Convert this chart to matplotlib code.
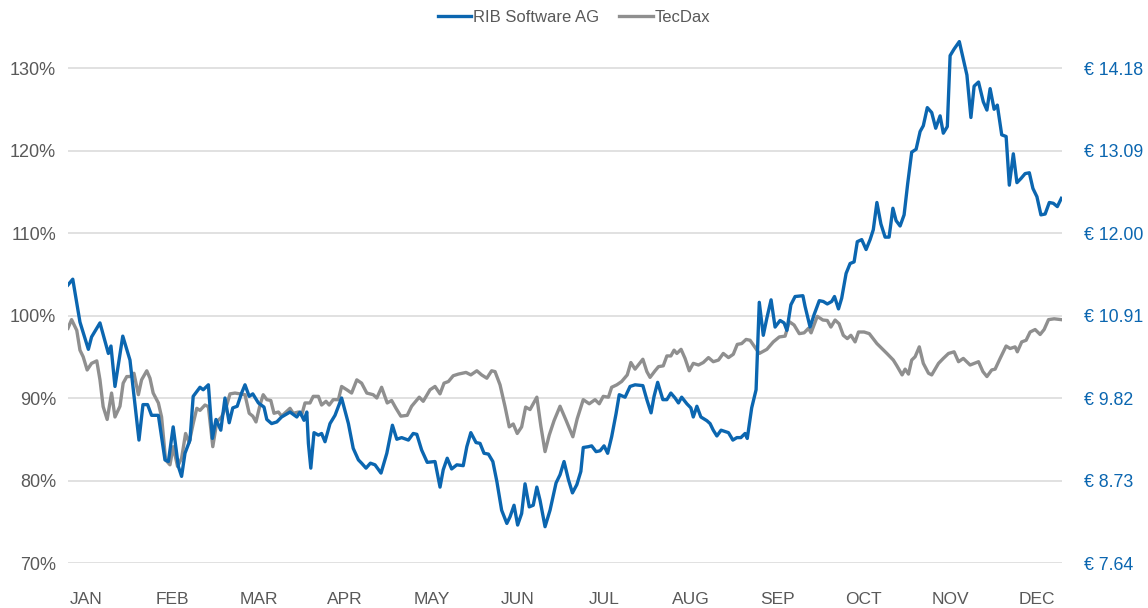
import matplotlib
matplotlib.use("Agg")
import matplotlib.pyplot as plt
from matplotlib.ticker import FixedLocator, FuncFormatter

plt.rcParams['font.family'] = ['Liberation Sans', 'DejaVu Sans']

# trading-day index and performance in % (start = 100 %)
rib_days = [0, 1.2, 3, 5.1, 5.9, 8, 10.1, 10.75, 11.75, 13.7, 15.5, 17.75, 18.75, 19.9, 20.9,
            22.6, 24.25, 25.1, 26.3, 27.6, 28.4, 29.25, 30.5, 31.3, 33, 33.8, 35.1, 36.1, 37,
            38.2, 39.25, 40.3, 41.2, 42.3, 43.4, 44.25, 45.3, 46.2, 47.6, 49, 49.7, 50.9, 52.2,
            53.4, 55.5, 57.2, 58, 59, 59.7, 60.1, 60.7, 61.5, 62.6, 63.4, 64.25, 65.5, 66.75,
            68.4, 70.1, 71.3, 72.6, 73.4, 74.5, 75.6, 76.75, 78.25, 79.7, 81.1, 82.2, 83.4,
            85.1, 86.3, 87.2, 88.4, 89.8, 91.75, 93, 93.8, 94.8, 95.9, 97.2, 98.8, 99.7, 100.7,
            102, 103, 104, 105.1, 106.2, 107.2, 108.4, 109.7, 110.5, 111.5, 112.4, 113.4,
            114.25, 115.3, 116.3, 117.2, 118, 119.25, 120.5, 122, 123, 124, 125.1, 126.1,
            127.2, 128.2, 128.8, 130.1, 130.9, 132, 133, 134, 134.9, 135.9, 137, 137.8, 139.25,
            140.5, 141.75, 143.7, 144.7, 145.75, 146.5, 147.4, 148.7, 149.7, 150.7, 151.75,
            152.6, 153.4, 154.7, 155.7, 156.3, 157.2, 158.2, 159.7, 160.5, 161.3, 162.2,
            163.25, 165.1, 166.2, 167.2, 168.2, 169.25, 169.8, 170.9, 172, 172.8, 173.8, 174.7,
            175.75, 176.75, 178, 179, 179.7, 180.7, 181.75, 183.7, 184.25, 185.5, 186.5, 187.8,
            188.8, 189.8, 190.9, 191.6, 192.6, 193.4, 194.5, 195.5, 196.5, 197.3, 198.4, 199.5,
            200.5, 201.3, 202.2, 203.2, 204.25, 205.25, 206.2, 207, 208, 209, 209.9, 210.9,
            212, 213, 213.8, 214.8, 215.9, 216.9, 218, 218.8, 219.8, 220.5, 221.5, 222.8,
            224.7, 225.7, 226.5, 227.6, 228.8, 229.7, 230.5, 231.5, 232.3, 233.4, 234.5, 235.3,
            236.3, 237.2, 238.2, 239.25, 240.3, 241.2, 242.2, 243.2, 244.25, 245.3, 246.3,
            247.3, 248.3]
rib_pct = [103.7, 104.4, 99.2, 95.9, 97.4, 99.1, 95.4, 96.3, 91.4, 97.5, 94.6, 84.9, 89.2,
           89.2, 87.9, 87.9, 82.5, 82.3, 86.5, 81.7, 80.5, 83.3, 84.9, 90.2, 91.3, 91.0, 91.6,
           85.1, 87.4, 86.1, 90.0, 87.0, 88.8, 89.0, 90.6, 91.6, 90.2, 90.5, 89.4, 88.9, 87.4,
           86.9, 87.1, 87.7, 88.3, 87.7, 88.3, 87.3, 88.3, 84.5, 81.5, 85.8, 85.5, 85.7, 84.7,
           86.9, 87.9, 90.0, 86.9, 83.9, 82.5, 82.1, 81.5, 82.1, 81.9, 80.9, 83.3, 86.7, 85.0,
           85.2, 84.9, 85.7, 85.6, 83.7, 82.2, 82.3, 79.2, 81.3, 82.7, 81.4, 81.9, 81.8, 84.1,
           85.8, 84.6, 84.5, 83.3, 83.2, 82.3, 79.9, 76.4, 74.8, 75.6, 77.0, 74.6, 76.0, 79.6,
           76.8, 77.0, 79.2, 77.6, 74.4, 76.4, 79.7, 80.7, 82.3, 80.1, 78.5, 79.5, 81.1, 84.0,
           84.1, 84.2, 83.5, 83.6, 84.2, 83.3, 85.3, 88.1, 90.4, 90.1, 91.4, 91.6, 91.5, 89.8,
           88.2, 90.2, 91.9, 89.8, 89.8, 90.6, 90.0, 89.4, 90.1, 89.3, 88.8, 87.7, 89.0, 87.7,
           87.25, 86.9, 86.1, 85.4, 86.1, 85.8, 84.9, 85.2, 85.2, 85.7, 85.1, 88.8, 91.0,
           101.6, 97.6, 99.7, 101.9, 98.6, 99.4, 99.1, 98.2, 101.3, 102.3, 102.4, 101.1, 98.6,
           100.1, 101.8, 101.7, 101.4, 101.7, 102.3, 100.8, 102.1, 105.1, 106.3, 106.5, 108.95,
           109.2, 108.0, 109.2, 110.4, 113.7, 111.1, 109.5, 109.5, 113.0, 111.5, 110.85, 112.2,
           116.0, 119.8, 120.15, 122.3, 123.0, 125.2, 124.6, 122.7, 124.2, 122.1, 122.9, 131.5,
           132.3, 133.2, 129.15, 124.0, 127.8, 128.3, 125.9, 124.9, 127.5, 125.0, 125.5, 121.9,
           121.7, 115.8, 119.6, 116.1, 116.6, 117.2, 117.3, 115.4, 114.4, 112.2, 112.3, 113.7,
           113.6, 113.2, 114.2]

tec_days = [0, 0.9, 2.2, 3, 3.8, 4.8, 5.9, 7.2, 8, 8.8, 9.8, 10.9, 11.75, 13, 13.8, 14.7, 15.5,
            16.5, 17.6, 18.4, 19.7, 20.5, 21.3, 22.6, 23.4, 24.4, 25.5, 26.3, 27.4, 28.4, 29.4,
            30.3, 31.3, 32.2, 33, 34.25, 35.1, 36.2, 37.2, 38.4, 39.7, 40.5, 41.75, 43, 44.25,
            45.3, 46.2, 47, 48, 48.8, 49.7, 50.7, 51.5, 52.6, 53.4, 54.5, 55.5, 56.3, 57.6,
            58.4, 59.25, 60.5, 61.3, 62.6, 63.4, 64.5, 65.3, 66.3, 67.6, 68.4, 69.7, 70.9, 72.2,
            73.4, 74.7, 76.3, 77.2, 78.4, 79.8, 80.9, 82, 83.2, 84.8, 85.9, 87.8, 88.8, 90.5,
            91.75, 93, 94, 95.1, 96.3, 97.6, 99.5, 100.7, 102.2, 103.4, 104.7, 105.9, 106.75,
            108, 109.25, 110.3, 111.3, 112.3, 113.4, 114.4, 115.5, 117.2, 118.2, 119.25, 120.3,
            121.5, 123, 124.5, 126.2, 127.3, 128.8, 130.3, 131.75, 132.8, 133.8, 135.1, 135.9,
            137.2, 138.4, 139.8, 140.7, 141.75, 143.7, 144.7, 145.5, 146.75, 147.6, 148.8,
            149.7, 150.7, 151.5, 152.2, 153.25, 154.25, 155.3, 156.3, 157.6, 158.8, 160.1,
            161.3, 162.6, 163.8, 165.1, 166.3, 167.3, 168.4, 169.5, 170.5, 172.8, 174.7, 176.3,
            177.8, 179.25, 180.3, 181.5, 182.8, 184, 185.1, 185.75, 187.3, 188.7, 189.8, 190.7,
            191.75, 192.75, 193.8, 194.8, 195.7, 196.75, 197.6, 199, 200.3, 202.2, 204.7, 206.3,
            207.2, 208.5, 209.25, 210.1, 210.9, 211.75, 212.8, 213.8, 215.1, 215.9, 217.6,
            218.8, 220.1, 221.5, 222.6, 223.8, 225.5, 227.6, 228.7, 229.7, 230.9, 231.75, 233,
            234.5, 235.5, 236.75, 237.3, 238.4, 239.5, 240.5, 241.75, 243, 244, 245.1, 246.5,
            248.25]
tec_pct = [98.45, 99.5, 98.2, 95.8, 95.0, 93.4, 94.2, 94.5, 92.2, 88.95, 87.4, 90.6, 87.7,
           89.0, 91.8, 92.6, 92.6, 93.0, 90.4, 92.2, 93.3, 92.4, 90.6, 89.4, 87.7, 82.5, 81.9,
           84.1, 81.7, 82.7, 85.7, 84.6, 86.9, 88.75, 88.5, 89.15, 88.95, 84.1, 87.1, 87.7,
           89.15, 90.5, 90.6, 90.5, 90.4, 88.15, 87.8, 87.1, 89.15, 90.4, 89.8, 89.7, 88.15,
           88.3, 87.8, 88.3, 88.75, 88.15, 88.3, 87.9, 89.4, 89.4, 90.2, 90.2, 89.15, 89.6,
           89.15, 89.8, 89.8, 91.4, 91.0, 90.6, 92.2, 91.8, 90.6, 90.4, 90.0, 91.3, 89.4, 89.7,
           88.75, 87.8, 87.9, 89.0, 90.1, 89.6, 91.0, 91.4, 90.5, 91.8, 92.0, 92.7, 92.9, 93.1,
           92.8, 93.3, 92.8, 92.4, 93.3, 93.2, 91.6, 88.95, 86.5, 86.85, 85.7, 86.5, 88.9,
           88.6, 90.1, 86.6, 83.5, 85.5, 87.25, 89.0, 87.3, 85.3, 87.5, 89.8, 89.3, 89.8, 89.3,
           90.2, 90.1, 91.3, 91.6, 92.0, 92.8, 94.3, 93.5, 94.7, 93.2, 92.5, 93.3, 93.8, 93.9,
           95.1, 95.1, 95.8, 95.4, 95.9, 94.8, 93.3, 94.2, 94.0, 94.3, 94.9, 94.4, 94.6, 95.4,
           94.9, 95.3, 96.5, 96.6, 97.1, 97.0, 95.4, 95.9, 96.8, 97.4, 97.5, 99.25, 98.85, 97.8,
           97.9, 98.45, 97.9, 99.9, 99.45, 99.4, 98.6, 99.45, 99.0, 97.6, 97.2, 97.6, 96.8,
           98.0, 98.0, 97.8, 96.6, 95.4, 94.6, 93.9, 92.8, 93.5, 92.9, 94.6, 95.0, 96.2, 94.2,
           93.0, 92.8, 94.2, 94.8, 95.4, 95.6, 94.4, 94.8, 94.0, 94.4, 93.2, 92.6, 93.4, 93.5,
           94.8, 96.3, 96.0, 96.2, 95.6, 96.8, 97.0, 98.0, 98.3, 97.7, 98.3, 99.5, 99.6, 99.5]

months = ['JAN', 'FEB', 'MAR', 'APR', 'MAY', 'JUN', 'JUL', 'AUG', 'SEP', 'OCT', 'NOV', 'DEC']
month_pos = [4.5 + 21.6 * i for i in range(12)]

pct_ticks = [70, 80, 90, 100, 110, 120, 130]
base_price = 10.91

BLUE = '#0b66b0'
GREY = '#8f8f8f'
TEXT = '#595959'


def main():
    fig = plt.figure(figsize=(11.48, 6.08), dpi=100)
    ax = fig.add_axes([0.0592, 0.074, 0.866, 0.882])

    for p in pct_ticks:
        ax.axhline(p, color='#d9d9d9', lw=1.1, zorder=0)

    ax.plot(rib_days, rib_pct, color=BLUE, lw=2.4, label='RIB Software AG',
            solid_joinstyle='round', zorder=3)
    ax.plot(tec_days, tec_pct, color=GREY, lw=2.4, label='TecDax',
            solid_joinstyle='round', zorder=2)

    ax.set_xlim(0, 248.5)
    ax.set_ylim(70, 135)
    ax.yaxis.set_major_locator(FixedLocator(pct_ticks))
    ax.yaxis.set_major_formatter(FuncFormatter(lambda v, _: f'{v:.0f}%'))
    ax.set_xticks(month_pos)
    ax.set_xticklabels(months)
    ax.tick_params(axis='x', length=0, pad=21, labelsize=12.5, labelcolor=TEXT)
    ax.tick_params(axis='y', length=0, pad=8.5, labelsize=13, labelcolor=TEXT)
    for s in ax.spines.values():
        s.set_visible(False)

    ax2 = ax.twinx()
    ax2.set_ylim(ax.get_ylim())
    ax2.yaxis.set_major_locator(FixedLocator(pct_ticks))
    ax2.yaxis.set_major_formatter(
        FuncFormatter(lambda v, _: f'€ {base_price * v / 100:.2f}'))
    ax2.tick_params(axis='y', length=0, pad=16, labelsize=12.8, labelcolor=BLUE)
    for s in ax2.spines.values():
        s.set_visible(False)

    fig.legend(loc='upper center', bbox_to_anchor=(0.5, 1.008), ncol=2, frameon=False,
               fontsize=12, labelcolor=TEXT, handlelength=2.0, handletextpad=0.12,
               columnspacing=1.2)

    fig.savefig('out.png', dpi=100)


if __name__ == '__main__':
    main()
